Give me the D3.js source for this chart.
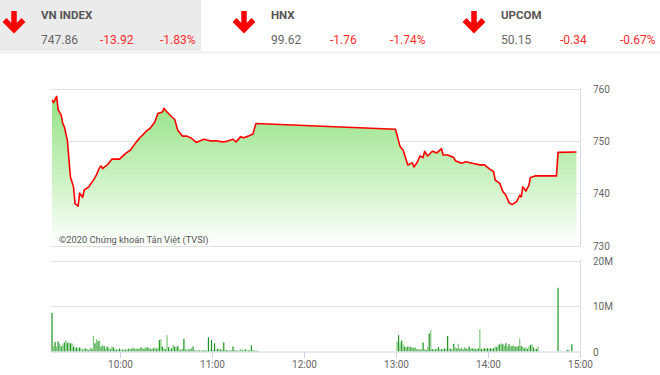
<!DOCTYPE html>
<html>
<head>
<meta charset="utf-8">
<script src="https://cdn.jsdelivr.net/npm/d3@7"></script>
<style>
  body { margin: 0; background: #fff; }
  svg { display: block; font-family: Roboto, "Open Sans", sans-serif; }
</style>
</head>
<body>
<svg id="chart" width="660" height="375"></svg>
<script>
//================ DATA =========================
const indexNames = ['VN INDEX', 'HNX', 'UPCOM'];
const indexValues = ['747.86', '99.62', '50.15'];
const indexChanges = ['-13.92', '-1.76', '-0.34'];
const indexPercents = ['-1.83%', '-1.74%', '-0.67%'];

const priceTimes = ['09:16','09:17','09:19','09:20','09:22','09:23','09:24','09:26','09:28','09:30',
  '09:31','09:33','09:34','09:36','09:37','09:40','09:43','09:45','09:47','09:48',
  '09:49','09:52','09:55','10:00','10:04','10:07','10:11','10:13','10:18','10:20',
  '10:23','10:25','10:28','10:29','10:31','10:34','10:36','10:38','10:41','10:44',
  '10:47','10:50','10:55','10:59','11:03','11:07','11:10','11:14','11:16','11:19',
  '11:21','11:24','11:27','11:29','13:00','13:03','13:05','13:08','13:11','13:12',
  '13:14','13:16','13:18','13:19','13:21','13:24','13:27','13:30','13:31','13:34',
  '13:38','13:39','13:43','13:46','13:50','13:55','13:58','14:01','14:04','14:05',
  '14:08','14:10','14:12','14:14','14:16','14:19','14:21','14:22','14:23','14:25',
  '14:27','14:28','14:31','14:45','14:46','14:58'];
const priceValues = [757.8,757.3,758.5,755.9,754.9,753.3,752.7,750.1,743.1,741.2,
  738.0,737.5,740.0,739.2,740.6,741.2,742.5,743.5,744.9,745.2,
  744.7,745.4,746.5,746.5,747.6,748.2,749.8,750.5,752.0,752.4,
  753.6,755.2,755.5,756.2,755.5,754.6,754.1,752.0,750.9,750.9,
  750.5,749.7,750.3,750.0,750.0,749.8,749.9,750.3,749.8,750.8,
  750.6,750.9,751.3,753.3,752.2,748.9,748.2,745.4,745.8,745.0,
  745.8,747.1,746.8,748.0,747.1,748.0,747.7,748.5,747.3,747.3,
  746.8,746.2,745.7,746.0,745.7,745.4,745.4,744.7,744.1,742.5,
  741.9,740.3,739.6,738.2,737.8,738.4,739.6,739.3,741.2,740.4,
  741.5,743.0,743.3,743.3,747.8,747.86];

// volume in millions, one bar per minute
const volMorningStart = '09:16';
const volMorning = [8.5,1.2,2.1,1.1,2.2,1.7,1.1,1.5,2.0,2.4,1.9,2.0,1.8,1.8,1.1,0.9,0.9,0.7,0.9,0.65,0.4,0.7,0.65,0.5,0.35,0.8,0.6,
  3.4,1.8,2.7,2.3,2.4,1.1,1.5,1.2,0.65,1.1,0.9,0.5,1.1,0.9,0.6,0.4,0.35,0.65,0.4,0.4,0.5,0.4,0.5,0.65,0.5,0.65,0.9,0.6,0.65,0.6,0.65,0.9,0.7,0.65,0.95,0.9,0.8,0.65,0.5,0.7,0.9,0.6,0.8,
  2.5,2.7,1.1,0.7,0.5,
  3.6,0.95,0.5,0.7,1.5,1.1,0.9,1.2,0.5,0.35,0.7,
  2.8,0.6,0.35,0.65,0.5,0.8,1.1,0.35,0.2,0.2,0.25,0.2,0.2,0.3,0.2,0.25,
  3.1,0.3,2.5,0.4,1.8,0.35,0.6,0.5,0.45,0.4,
  2.0,0.35,0.3,0.2,0.25,0.3,
  1.1,0.3,0.2,0.25,0.2,0.6,0.3,0.2,0.5,0.2,0.25,0.3,
  1.3,0.3,0.2,0.15,0.15];
const volAfternoonStart = '13:01';
const volAfternoon = [2.2,3.6,2.0,2.4,1.6,1.1,0.95,1.1,1.1,0.95,0.95,0.8,0.95,0.5,0.5,0.4,0.5,2.0,0.5,0.35,0.95,
  4.0,4.7,
  0.5,0.5,0.5,0.6,0.95,0.5,0.5,0.5,0.65,0.6,
  3.4,0.65,0.6,0.35,1.7,0.9,0.7,1.7,
  0.6,0.9,0.5,0.95,0.7,0.5,1.1,0.7,0.7,0.7,0.6,0.5,0.7,
  4.9,
  0.6,0.5,0.7,0.7,0.7,0.65,0.7,0.7,0.7,1.1,0.95,1.45,1.6,1.8,1.6,1.3,1.8,1.1,1.6,1.1,1.2,1.3,1.1,1.0,1.2,
  2.9,
  1.2,1.1,0.7,0.95,0.6,1.1,1.45,1.6,0.9,0.5,0.6,1.1];
const volCloseTimes = ['14:46','14:48','14:52','14:53','14:55'];
const volCloseValues = [14.0,0.2,0.35,0.35,1.6];

const priceTicks = [730, 740, 750, 760];
const volTicks = [0, 10, 20];
const timeTicks = ['10:00','11:00','12:00','13:00','14:00','15:00'];

//================ SETUP =========================
const svg = d3.select('#chart');
const parseT = s => { const [h, m] = s.split(':').map(Number); return new Date(2020, 0, 1, h, m); };
const addMin = (s, k) => new Date(parseT(s).getTime() + k * 60000);

const left = 50.5, right = 580.5;
const x = d3.scaleTime().domain([parseT('09:15'), parseT('15:00')]).range([left, 579.5]);
const y = d3.scaleLinear().domain([730, 760]).range([245.5, 88.5]);
const yv = d3.scaleLinear().domain([0, 20]).range([351.5, 260.5]);

//---------- header panels
const header = svg.append('g');
header.append('rect').attr('x', 0).attr('y', 0).attr('width', 201).attr('height', 51).attr('fill', '#ebebeb');
header.append('line').attr('x1', 0).attr('x2', 660).attr('y1', 52.5).attr('y2', 52.5)
  .attr('stroke', '#efefef').attr('stroke-width', 2);

indexNames.forEach((name, i) => {
  const g = header.append('g').attr('transform', `translate(${i * 230},0)`);
  // red down arrow
  g.append('path').attr('d', 'M14,11 L14,29 M4.5,20 L14,29.5 L23.5,20')
    .attr('fill', 'none').attr('stroke', '#ff0000').attr('stroke-width', 5.5)
    .attr('stroke-linejoin', 'miter');
  g.append('text').attr('x', 41).attr('y', 18.5).text(name)
    .attr('font-size', 11.5).attr('font-weight', 'bold').attr('fill', '#555');
  g.append('text').attr('x', 41).attr('y', 43.5).text(indexValues[i])
    .attr('font-size', 12).attr('fill', '#666');
  g.append('text').attr('x', 100).attr('y', 43.5).text(indexChanges[i])
    .attr('font-size', 12).attr('fill', '#ff2d2d');
  g.append('text').attr('x', 160).attr('y', 43.5).text(indexPercents[i])
    .attr('font-size', 12).attr('fill', '#ff2d2d');
});

//---------- gradient
const defs = svg.append('defs');
const grad = defs.append('linearGradient').attr('id', 'areaGrad')
  .attr('gradientUnits', 'userSpaceOnUse').attr('x1', 0).attr('x2', 0).attr('y1', 88).attr('y2', 246);
grad.append('stop').attr('offset', 0).attr('stop-color', '#8ee07e');
grad.append('stop').attr('offset', 0.6).attr('stop-color', '#cff3c7');
grad.append('stop').attr('offset', 1).attr('stop-color', '#ffffff');

//---------- price grid
svg.append('g').selectAll('line').data(priceTicks).join('line')
  .attr('x1', left).attr('x2', right).attr('y1', d => Math.round(y(d)) + 0.5).attr('y2', d => Math.round(y(d)) + 0.5)
  .attr('stroke', '#e2e2e2');

const pts = priceTimes.map((t, i) => ({ t: parseT(t), v: priceValues[i] }));

svg.append('path').datum(pts)
  .attr('fill', 'url(#areaGrad)')
  .attr('d', d3.area().x(d => x(d.t)).y0(y(730)).y1(d => y(d.v)));

svg.append('path').datum(pts)
  .attr('fill', 'none').attr('stroke', '#ff0000').attr('stroke-width', 1.6)
  .attr('stroke-linejoin', 'round')
  .attr('d', d3.line().x(d => x(d.t)).y(d => y(d.v)));

svg.append('line').attr('x1', right).attr('x2', right).attr('y1', 88).attr('y2', 246)
  .attr('stroke', '#d3dcec');

svg.append('text').attr('x', 59).attr('y', 243).text('©2020 Chứng khoán Tân Việt (TVSI)')
  .attr('font-size', 9.3).attr('fill', '#555');

svg.append('g').selectAll('text').data(priceTicks).join('text')
  .attr('x', 593).attr('y', d => y(d) + 4).text(d => d)
  .attr('font-size', 10).attr('fill', '#666');

//---------- volume
svg.append('g').selectAll('line').data(volTicks.filter(d => d > 0)).join('line')
  .attr('x1', left).attr('x2', right).attr('y1', d => Math.round(yv(d)) + 0.5).attr('y2', d => Math.round(yv(d)) + 0.5)
  .attr('stroke', '#e2e2e2');

const bars = []
  .concat(volMorning.map((v, i) => ({ t: addMin(volMorningStart, i), v })))
  .concat(volAfternoon.map((v, i) => ({ t: addMin(volAfternoonStart, i), v })))
  .concat(volCloseValues.map((v, i) => ({ t: parseT(volCloseTimes[i]), v })));

svg.append('g').selectAll('rect').data(bars).join('rect')
  .attr('x', d => x(d.t) - 0.6).attr('width', 1.2)
  .attr('y', d => yv(d.v)).attr('height', d => yv(0) - yv(d.v))
  .attr('fill', (d, i) => i % 2 ? '#7cc97c' : '#1f951f');

svg.append('line').attr('x1', left).attr('x2', right).attr('y1', 352).attr('y2', 352)
  .attr('stroke', '#ccd6eb');
svg.append('line').attr('x1', right).attr('x2', right).attr('y1', 260).attr('y2', 352)
  .attr('stroke', '#d3dcec');

svg.append('g').selectAll('text').data(volTicks).join('text')
  .attr('x', 593).attr('y', d => yv(d) + 4).text(d => d ? d + 'M' : '0')
  .attr('font-size', 10).attr('fill', '#666');

//---------- time axis
const tg = svg.append('g').selectAll('g').data(timeTicks).join('g')
  .attr('transform', d => `translate(${Math.round(x(parseT(d))) + 0.5},0)`);
tg.append('line').attr('y1', 352).attr('y2', 358).attr('stroke', '#ccd6eb');
tg.append('text').attr('y', 368).attr('text-anchor', 'middle').text(d => d)
  .attr('font-size', 10).attr('fill', '#666');
</script>
</body>
</html>
